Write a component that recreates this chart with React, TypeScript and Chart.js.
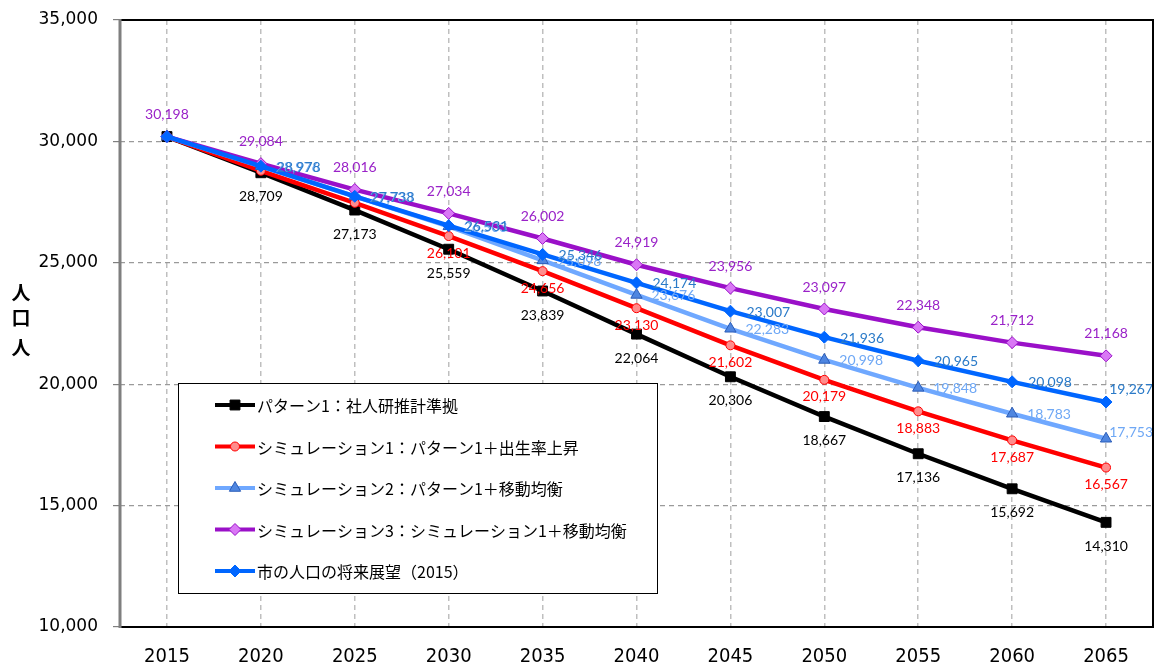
import React, { useEffect, useRef } from 'react';
import { Chart, registerables } from 'chart.js';

Chart.register(...registerables);

// ---- data ----
const years = ['2015', '2020', '2025', '2030', '2035', '2040', '2045', '2050', '2055', '2060', '2065'];
const pattern1 = [30198, 28709, 27173, 25559, 23839, 22064, 20306, 18667, 17136, 15692, 14310];
const simulation1 = [30198, 28790, 27470, 26101, 24656, 23130, 21602, 20179, 18883, 17687, 16567];
const simulation2 = [30198, 28976, 27733, 26503, 25098, 23676, 22283, 20998, 19848, 18783, 17753];
const simulation3 = [30198, 29084, 28016, 27034, 26002, 24919, 23956, 23097, 22348, 21712, 21168];
const outlook = [30198, 28978, 27738, 26531, 25346, 24174, 23007, 21936, 20965, 20098, 19267];

const seriesNames = [
  'パターン1：社人研推計準拠',
  'シミュレーション1：パターン1＋出生率上昇',
  'シミュレーション2：パターン1＋移動均衡',
  'シミュレーション3：シミュレーション1＋移動均衡',
  '市の人口の将来展望（2015）',
];

// which value labels are visible in the reference
const pattern1Shown = [false, true, true, true, true, true, true, true, true, true, true];
const simulation1Shown = [false, false, false, true, true, true, true, true, true, true, true];
const simulation2Shown = [false, true, true, true, true, true, true, true, true, true, true];
const simulation3Shown = [true, true, true, true, true, true, true, true, true, true, true];
const outlookShown = [false, true, true, true, true, true, true, true, true, true, true];

const yMin = 10000;
const yMax = 35000;
const yStep = 5000;
const yAxisTitleChars = ['人', '口', '人'];

const fmt = (v: number) => v.toLocaleString('en-US');

// ---- styles ----
const styles = [
  { line: '#000000', fill: '#000000', border: '#000000', shape: 'rect', radius: 7, label: '#000000', place: 'below', off: 24, lift: 0, order: 4 },
  { line: '#FF0000', fill: '#FF8C8C', border: '#FF0000', shape: 'circle', radius: 4.5, label: '#FF0000', place: 'below', off: 17, lift: 0, order: 3 },
  { line: '#6FA8FF', fill: '#4F86E0', border: '#2A5CB8', shape: 'triangle', radius: 6.5, label: '#6FA8F5', place: 'right', off: 15, lift: 6, order: 2 },
  { line: '#9A10C8', fill: '#D977F5', border: '#9A10C8', shape: 'rectRot', radius: 6, label: '#9A22C8', place: 'above', off: 22, lift: 0, order: 1 },
  { line: '#0066FF', fill: '#0066FF', border: '#0066FF', shape: 'rectRot', radius: 6, label: '#2A7AC8', place: 'right', off: 16, lift: 13, order: 0 },
];

const seriesData = [pattern1, simulation1, simulation2, simulation3, outlook];
const seriesShown = [pattern1Shown, simulation1Shown, simulation2Shown, simulation3Shown, outlookShown];

function drawMarker(ctx: CanvasRenderingContext2D, shape: string, x: number, y: number, r: number, fill: string, border: string) {
  ctx.save();
  ctx.beginPath();
  if (shape === 'rect') {
    const s = r * Math.SQRT1_2;
    ctx.rect(x - s, y - s, 2 * s, 2 * s);
  } else if (shape === 'circle') {
    ctx.arc(x, y, r, 0, Math.PI * 2);
  } else if (shape === 'triangle') {
    let a = 0;
    ctx.moveTo(x + Math.sin(a) * r, y - Math.cos(a) * r);
    a += (2 * Math.PI) / 3;
    ctx.lineTo(x + Math.sin(a) * r, y - Math.cos(a) * r);
    a += (2 * Math.PI) / 3;
    ctx.lineTo(x + Math.sin(a) * r, y - Math.cos(a) * r);
    ctx.closePath();
  } else {
    ctx.moveTo(x, y - r);
    ctx.lineTo(x + r, y);
    ctx.lineTo(x, y + r);
    ctx.lineTo(x - r, y);
    ctx.closePath();
  }
  ctx.fillStyle = fill;
  ctx.fill();
  ctx.lineWidth = 1;
  ctx.strokeStyle = border;
  ctx.stroke();
  ctx.restore();
}

const legendBoxPlugin = {
  id: 'legendBox',
  afterDatasetsDraw(chart: any) {
    const ctx: CanvasRenderingContext2D = chart.ctx;
    const x0 = 178, y0 = 383, w = 479, h = 210;
    ctx.save();
    ctx.fillStyle = '#ffffff';
    ctx.fillRect(x0, y0, w, h);
    ctx.strokeStyle = '#000000';
    ctx.lineWidth = 1;
    ctx.strokeRect(x0 + 0.5, y0 + 0.5, w, h);
    ctx.font = '16px "Noto Sans CJK JP", sans-serif';
    ctx.textBaseline = 'middle';
    ctx.textAlign = 'left';
    seriesNames.forEach((name, i) => {
      const st = styles[i];
      const cy = y0 + 22 + i * 41.5;
      ctx.beginPath();
      ctx.strokeStyle = st.line;
      ctx.lineWidth = 4;
      ctx.moveTo(215, cy);
      ctx.lineTo(255, cy);
      ctx.stroke();
      drawMarker(ctx, st.shape, 235, cy, st.radius, st.fill, st.border);
      ctx.fillStyle = '#000000';
      ctx.fillText(name, 257, cy + 1);
    });
    ctx.restore();
  },
};

const valueLabelPlugin = {
  id: 'valueLabels',
  afterDatasetsDraw(chart: any) {
    const ctx: CanvasRenderingContext2D = chart.ctx;
    ctx.save();
    ctx.font = '14px Lato, "Open Sans", sans-serif';
    ctx.textBaseline = 'middle';
    chart.data.datasets.forEach((ds: any, i: number) => {
      const meta = chart.getDatasetMeta(i);
      const st = styles[i];
      meta.data.forEach((pt: any, j: number) => {
        if (!ds.labelShown[j]) return;
        const text = fmt(ds.data[j]);
        ctx.fillStyle = st.label;
        if (st.place === 'below') {
          ctx.textAlign = 'center';
          ctx.fillText(text, pt.x, pt.y + st.off);
        } else if (st.place === 'above') {
          ctx.textAlign = 'center';
          ctx.fillText(text, pt.x, pt.y - st.off);
        } else {
          ctx.textAlign = 'left';
          const tw = ctx.measureText(text).width;
          let lx = pt.x + st.off;
          let ly = pt.y + 1;
          const limit = chart.width - 3;
          if (lx + tw > limit) {
            lx = limit - tw;
            ly = pt.y - st.lift;
          }
          ctx.fillText(text, lx, ly);
        }
      });
    });
    ctx.restore();
  },
};

const framePlugin = {
  id: 'frame',
  afterDatasetsDraw(chart: any) {
    const ctx: CanvasRenderingContext2D = chart.ctx;
    const a = chart.chartArea;
    ctx.save();
    ctx.strokeStyle = '#000000';
    ctx.lineWidth = 2;
    ctx.beginPath();
    ctx.moveTo(a.left, a.top);
    ctx.lineTo(a.right, a.top);
    ctx.lineTo(a.right, a.bottom);
    ctx.lineTo(a.left, a.bottom);
    ctx.stroke();
    ctx.strokeStyle = '#7F7F7F';
    ctx.lineWidth = 3;
    ctx.beginPath();
    ctx.moveTo(a.left, a.top - 1);
    ctx.lineTo(a.left, a.bottom + 1);
    ctx.stroke();
    ctx.restore();
  },
};

const yTitlePlugin = {
  id: 'yTitle',
  afterDraw(chart: any) {
    const ctx: CanvasRenderingContext2D = chart.ctx;
    ctx.save();
    ctx.font = 'bold 19px "Noto Sans CJK JP", sans-serif';
    ctx.fillStyle = '#000000';
    ctx.textAlign = 'center';
    ctx.textBaseline = 'middle';
    const ys = [293, 318, 348];
    yAxisTitleChars.forEach((c, i) => ctx.fillText(c, 21, ys[i]));
    ctx.restore();
  },
};

export default function App() {
  const ref = useRef<HTMLCanvasElement>(null);

  useEffect(() => {
    if (!ref.current) return;
    const datasets = seriesNames.map((name, i) => {
      const st = styles[i];
      return {
        label: name,
        data: seriesData[i],
        labelShown: seriesShown[i],
        borderColor: st.line,
        backgroundColor: st.fill,
        borderWidth: 4.5,
        pointStyle: st.shape,
        pointRadius: st.radius,
        pointBackgroundColor: st.fill,
        pointBorderColor: st.border,
        pointBorderWidth: 1,
        tension: 0,
        order: st.order,
      };
    });
    const chart = new Chart(ref.current, {
      type: 'line',
      data: { labels: years, datasets: datasets as any },
      options: {
        animation: false,
        responsive: false,
        maintainAspectRatio: false,
        layout: { autoPadding: false, padding: { left: 0, top: 20, right: 3, bottom: 0 } },
        plugins: { legend: { display: false }, tooltip: { enabled: false } },
        scales: {
          x: {
            type: 'category',
            offset: true,
            afterFit: (s: any) => { s.height = 36; s.paddingLeft = 0; s.paddingRight = 0; },
            grid: { offset: false, color: '#BFBFBF', lineWidth: 1.5, drawTicks: false },
            border: { display: false, dash: [5, 4] },
            ticks: {
              color: '#000000',
              padding: 18,
              font: { family: '"DejaVu Sans Condensed", "Liberation Sans Narrow", sans-serif', size: 20 },
              maxRotation: 0,
            },
          },
          y: {
            min: yMin,
            max: yMax,
            afterFit: (s: any) => { s.width = 120; s.paddingTop = 0; s.paddingBottom = 0; },
            grid: { color: '#9A9A9A', lineWidth: 1.2, tickLength: 7, tickColor: '#7F7F7F', tickBorderDash: [] },
            border: { display: false, dash: [5, 4] },
            ticks: {
              stepSize: yStep,
              color: '#000000',
              padding: 15,
              font: { family: '"DejaVu Sans", sans-serif', size: 17 },
              callback: (v: any) => fmt(Number(v)),
            },
          },
        },
      } as any,
      plugins: [legendBoxPlugin, valueLabelPlugin, framePlugin, yTitlePlugin],
    });
    return () => chart.destroy();
  }, []);

  return (
    <div style={{ position: 'fixed', left: 0, top: 0, width: 1156, height: 663, background: '#ffffff' }}>
      <canvas ref={ref} width={1156} height={663} style={{ display: 'block' }} />
    </div>
  );
}
